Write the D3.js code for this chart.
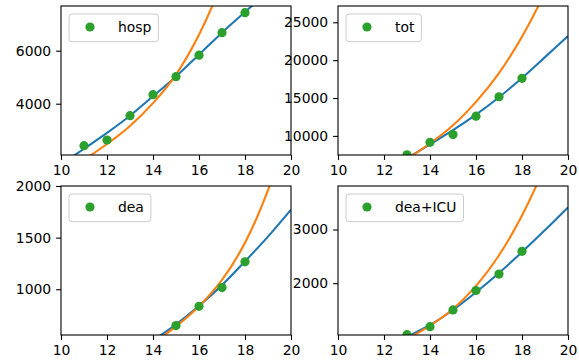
<!DOCTYPE html>
<html>
<head>
<meta charset="utf-8">
<script src="https://cdn.jsdelivr.net/npm/d3@7/dist/d3.min.js"></script>
<style>
  body { margin: 0; background: #fff; }
  svg { display: block; }
  text { font-family: "DejaVu Sans", sans-serif; }
</style>
</head>
<body>
<svg id="chart" width="579" height="364"></svg>
<script>
// --- data ---
const fitDays = [10, 11, 12, 13, 14, 15, 16, 17, 18, 19, 20];

const hospDays = [11, 12, 13, 14, 15, 16, 17, 18];
const hospValues = [2415, 2630, 3547, 4340, 5019, 5830, 6679, 7434];
const hospFitBlue = [1700, 2300, 2900, 3547, 4280, 5030, 5850, 6680, 7460, 8230, 9000];
const hospFitOrange = [1480, 1900, 2480, 3160, 4020, 5100, 6600, 8600, 11200, 14500, 18800];

const totDays = [13, 14, 15, 16, 17, 18];
const totValues = [7500, 9151, 10172, 12600, 15172, 17600];
const totFitBlue = [3000, 4300, 5700, 7100, 8900, 10750, 12800, 15100, 17650, 20400, 23180];
const totFitOrange = [3400, 4300, 5500, 7000, 9000, 11400, 14500, 18300, 23100, 29000, 36500];

const deaDays = [15, 16, 17, 18];
const deaValues = [648, 835, 1016, 1266];
const deaFitBlue = [150, 250, 340, 420, 510, 660, 840, 1040, 1270, 1510, 1771];
const deaFitOrange = [160, 210, 275, 360, 480, 640, 835, 1090, 1450, 1960, 2650];

const icuDays = [13, 14, 15, 16, 17, 18];
const icuValues = [1040, 1189, 1502, 1863, 2169, 2594];
const icuFitBlue = [500, 640, 800, 1000, 1220, 1500, 1830, 2190, 2580, 2990, 3412];
const icuFitOrange = [440, 580, 760, 960, 1210, 1520, 1950, 2520, 3260, 4200, 5400];

const xTicks = [10, 12, 14, 16, 18, 20];
const hospTicks = [4000, 6000];
const totTicks = [10000, 15000, 20000, 25000];
const deaTicks = [1000, 1500, 2000];
const icuTicks = [2000, 3000];

// --- layout ---
const svg = d3.select('#chart');
const axW = 230, axH = 149;
const fontPx = 13.9;
const tickLen = 4.9;
const dotR = 4.6;

const panels = [
  { name: 'hosp', x0: 61, y0: 6, yDomain: [2064, 7687], ticks: hospTicks,
    days: hospDays, values: hospValues, blue: hospFitBlue, orange: hospFitOrange },
  { name: 'tot', x0: 338, y0: 6, yDomain: [7480, 27150], ticks: totTicks,
    days: totDays, values: totValues, blue: totFitBlue, orange: totFitOrange },
  { name: 'dea', x0: 61, y0: 186, yDomain: [557, 2000], ticks: deaTicks,
    days: deaDays, values: deaValues, blue: deaFitBlue, orange: deaFitOrange },
  { name: 'dea+ICU', x0: 338, y0: 186, yDomain: [1034, 3811], ticks: icuTicks,
    days: icuDays, values: icuValues, blue: icuFitBlue, orange: icuFitOrange }
];

panels.forEach((p, i) => {
  const x = d3.scaleLinear().domain([10, 20]).range([0, axW]);
  const y = d3.scaleLinear().domain(p.yDomain).range([axH, 0]);

  const g = svg.append('g').attr('transform', `translate(${p.x0},${p.y0})`);

  g.append('clipPath').attr('id', 'clip' + i)
    .append('rect').attr('width', axW).attr('height', axH);

  const plot = g.append('g').attr('clip-path', `url(#clip${i})`);

  const line = d3.line()
    .x((d, j) => x(fitDays[j]))
    .y(d => y(d))
    .curve(d3.curveCatmullRom.alpha(0.5));

  plot.append('path').datum(p.blue)
    .attr('d', line)
    .attr('fill', 'none').attr('stroke', '#1f77b4').attr('stroke-width', 2.1);
  plot.append('path').datum(p.orange)
    .attr('d', line)
    .attr('fill', 'none').attr('stroke', '#ff7f0e').attr('stroke-width', 2.1);

  plot.selectAll('circle').data(p.days).enter()
    .append('circle')
      .attr('cx', d => x(d))
      .attr('cy', (d, j) => y(p.values[j]))
      .attr('r', dotR)
      .attr('fill', '#2ca02c');

  // axes
  const xAxis = g.append('g').attr('transform', `translate(0,${axH})`)
    .call(d3.axisBottom(x).tickValues(xTicks).tickFormat(d3.format('d'))
      .tickSizeInner(tickLen).tickSizeOuter(0).tickPadding(4.9));
  const yAxis = g.append('g')
    .call(d3.axisLeft(y).tickValues(p.ticks).tickFormat(d3.format('d'))
      .tickSizeInner(tickLen).tickSizeOuter(0).tickPadding(4.9));
  [xAxis, yAxis].forEach(a => {
    a.select('.domain').remove();
    a.selectAll('line').attr('stroke', '#000').attr('stroke-width', 1.1);
    a.selectAll('text').attr('fill', '#000').attr('font-size', fontPx)
      .attr('font-family', '"DejaVu Sans", sans-serif');
  });

  g.append('rect')
    .attr('width', axW).attr('height', axH)
    .attr('fill', 'none').attr('stroke', '#000').attr('stroke-width', 1.1);

  // legend
  const leg = g.append('g').attr('transform', 'translate(8,8)');
  const box = leg.append('rect')
    .attr('height', 27.7).attr('rx', 3)
    .attr('fill', '#fff').attr('fill-opacity', 0.8)
    .attr('stroke', '#cccccc').attr('stroke-width', 1);
  leg.append('circle').attr('cx', 21).attr('cy', 13).attr('r', dotR).attr('fill', '#2ca02c');
  const label = leg.append('text')
    .attr('x', 49).attr('y', 18)
    .attr('font-size', fontPx).attr('fill', '#000')
    .text(p.name);
  box.attr('width', 49 + label.node().getComputedTextLength() + 7);
});
</script>
</body>
</html>
